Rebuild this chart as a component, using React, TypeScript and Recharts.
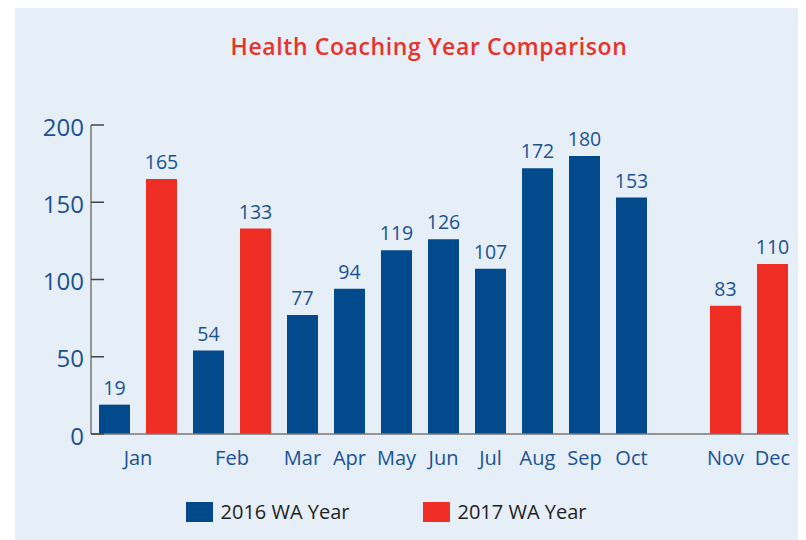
import React from 'react';
import { BarChart, Bar, XAxis, YAxis, Cell, LabelList, Legend } from 'recharts';

const months = ['Jan', 'Feb', 'Mar', 'Apr', 'May', 'Jun', 'Jul', 'Aug', 'Sep', 'Oct', 'Nov', 'Dec'];
const wa2016 = [19, 54, 77, 94, 119, 126, 107, 172, 180, 153, null, null];
const wa2017 = [165, 133, null, null, null, null, null, null, null, null, 83, 110];
const yTicks = [0, 50, 100, 150, 200];
const seriesNames = ['2016 WA Year', '2017 WA Year'];

const BLUE = '#034a8d';
const RED = '#ee2e25';
const TEXT_BLUE = '#1a5294';
const FONT = '"Open Sans", sans-serif';

// one slot per bar, plus an empty slot between the two year blocks
type Slot = { slot: string; month: string; value: number | null; year: number | null };
const slots: Slot[] = [];
months.forEach((m, i) => {
  if (i > 0 && wa2016[i] == null && wa2016[i - 1] != null) {
    slots.push({ slot: 'gap', month: '', value: null, year: null });
  }
  if (wa2016[i] != null) slots.push({ slot: `${m}-2016`, month: m, value: wa2016[i], year: 2016 });
  if (wa2017[i] != null) slots.push({ slot: `${m}-2017`, month: m, value: wa2017[i], year: 2017 });
});

const MonthTick = (props: any) => {
  const { x, y, payload } = props;
  const s = slots.find((d) => d.slot === payload.value);
  if (!s || !s.month) return null;
  const pair = slots.filter((d) => d.month === s.month);
  if (pair.length > 1 && pair[0].slot !== s.slot) return null;
  const half = payload.offset ?? 23.5;
  const cx = pair.length > 1 ? x + half : x;
  return (
    <text x={cx} y={y + 23} textAnchor="middle" fill={TEXT_BLUE} fontSize={20} fontFamily={FONT}>
      {s.month}
    </text>
  );
};

const ValueTick = (props: any) => {
  const { x, y, payload } = props;
  return (
    <g>
      <line x1={x + 7} x2={x + 20} y1={y} y2={y} stroke="#444" strokeWidth={1.5} />
      <text x={x} y={y + 10.5} textAnchor="end" fill={TEXT_BLUE} fontSize={24} fontFamily={FONT}>
        {payload.value}
      </text>
    </g>
  );
};

const LegendContent = () => (
  <div
    style={{
      display: 'flex',
      justifyContent: 'center',
      alignItems: 'flex-end',
      height: 50,
      paddingBottom: 2,
      paddingRight: 49,
      boxSizing: 'border-box',
      fontFamily: FONT,
    }}
  >
    {seriesNames.map((name, i) => (
      <div key={name} style={{ display: 'flex', alignItems: 'center', marginLeft: i ? 73 : 0 }}>
        <div style={{ width: 27, height: 20, background: i ? RED : BLUE }} />
        <span style={{ marginLeft: 8, fontSize: 20, lineHeight: '20px', color: '#231f20' }}>{name}</span>
      </div>
    ))}
  </div>
);

export default function App() {
  return (
    <div style={{ position: 'relative', marginLeft: 7, width: 791, height: 532, background: '#e6eef8' }}>
      <div
        style={{
          position: 'absolute',
          left: 0,
          top: 27,
          width: 828,
          textAlign: 'center',
          color: '#e8322a',
          fontFamily: FONT,
          fontWeight: 600,
          fontSize: 23,
          lineHeight: '23px',
          letterSpacing: 0.6,
          zIndex: 1,
        }}
      >
        Health Coaching Year Comparison
      </div>
      <BarChart width={791} height={532} data={slots} margin={{ top: 117, right: 17, bottom: 16, left: 0 }}>
        <XAxis
          dataKey="slot"
          height={40}
          interval={0}
          tickLine={false}
          axisLine={{ stroke: '#777', strokeWidth: 1.5 }}
          padding={{ left: 0, right: -7 }}
          tick={<MonthTick />}
        />
        <YAxis
          width={76}
          domain={[0, 200]}
          ticks={yTicks}
          tickSize={0}
          tickMargin={7}
          tickLine={false}
          axisLine={{ stroke: '#777', strokeWidth: 1.5 }}
          tick={<ValueTick />}
        />
        <Legend verticalAlign="bottom" height={50} wrapperStyle={{ left: 0, width: 791 }} content={<LegendContent />} />
        <Bar dataKey="value" barSize={31} isAnimationActive={false}>
          {slots.map((d) => (
            <Cell key={d.slot} fill={d.year === 2017 ? RED : BLUE} />
          ))}
          <LabelList dataKey="value" position="top" offset={10} fill={TEXT_BLUE} fontSize={19.5} fontFamily={FONT} />
        </Bar>
      </BarChart>
    </div>
  );
}
